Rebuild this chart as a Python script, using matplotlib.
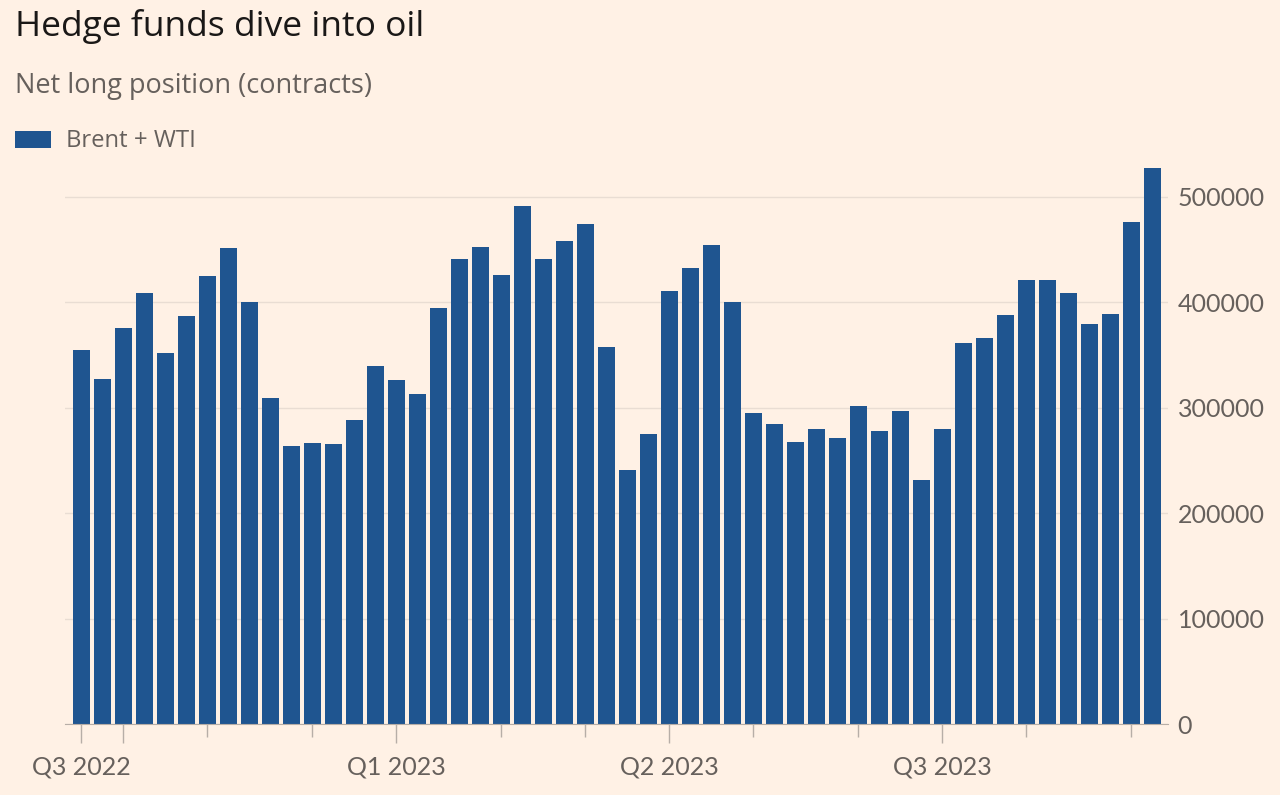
import numpy as np
import matplotlib
matplotlib.use("Agg")
import matplotlib.pyplot as plt
from matplotlib.patches import Rectangle

# ----- data (weekly net long, Brent + WTI) -----
net_long = [
    355000, 327000, 375000, 409000, 352000, 387000, 425000, 451000, 400000, 309000,
    264000, 266000, 265000, 288000, 339000, 326000, 313000, 394000, 441000, 452000,
    426000, 491000, 441000, 458000, 474000, 357000, 241000, 275000, 410000, 432000,
    454000, 400000, 295000, 284000, 267000, 280000, 271000, 301000, 278000, 297000,
    231000, 280000, 361000, 366000, 388000, 421000, 421000, 409000, 379000, 389000,
    476000, 527000,
]
major_idx = [0, 2, 15, 28, 41]
major_labels = ["Q3 2022", "", "Q1 2023", "Q2 2023", "Q3 2023"]
minor_idx = [6, 11, 20, 24, 32, 37, 45, 50]
y_ticks = [0, 100000, 200000, 300000, 400000, 500000]

BG = "#fff1e5"
BAR = "#1f5590"
GREY = "#66605c"
GRID = "#e9ddd3"
AXIS = "#b7aea7"

plt.rcParams["font.family"] = ["Lato", "DejaVu Sans"]
HEAD = ["Open Sans", "DejaVu Sans"]

fig = plt.figure(figsize=(12.8, 7.95), dpi=100, facecolor=BG)
ax = fig.add_axes([0.0504, 0.0893, 0.8621, 0.7099], facecolor=BG)

x = np.arange(len(net_long))
ax.bar(x, net_long, width=0.8, color=BAR, zorder=2)

ax.set_xlim(-0.8, len(net_long) - 0.26)
ax.set_ylim(0, 535000)

ax.yaxis.tick_right()
ax.set_yticks(y_ticks)
ax.set_yticklabels([str(v) for v in y_ticks])
ax.tick_params(axis="y", length=0, pad=7, labelsize=18, labelcolor=GREY)
ax.grid(axis="y", color=GRID, linewidth=1, zorder=0)

ax.set_xticks(major_idx)
ax.set_xticklabels(major_labels)
ax.set_xticks(minor_idx, minor=True)
ax.tick_params(axis="x", which="major", length=14, width=1, color=AXIS,
               pad=9, labelsize=18, labelcolor=GREY)
ax.tick_params(axis="x", which="minor", length=9, width=1, color=AXIS)

for s in ["top", "left", "right"]:
    ax.spines[s].set_visible(False)
ax.spines["bottom"].set_color(AXIS)
ax.spines["bottom"].set_zorder(3)

fig.text(15 / 1280, 1 - 26 / 795, "Hedge funds dive into oil", fontsize=25.5,
         family=HEAD, color="#1a1817", va="center", ha="left")
fig.text(15 / 1280, 1 - 86 / 795, "Net long position (contracts)", fontsize=19.5,
         family=HEAD, color=GREY, va="center", ha="left")
fig.patches.append(Rectangle((15 / 1280, 1 - 148 / 795), 36 / 1280, 17 / 795,
                             transform=fig.transFigure, facecolor=BAR,
                             edgecolor="none"))
fig.text(66 / 1280, 1 - 141 / 795, "Brent + WTI", fontsize=17.2,
         family=HEAD, color=GREY, va="center", ha="left")

fig.savefig("out.png", dpi=100, facecolor=BG)
